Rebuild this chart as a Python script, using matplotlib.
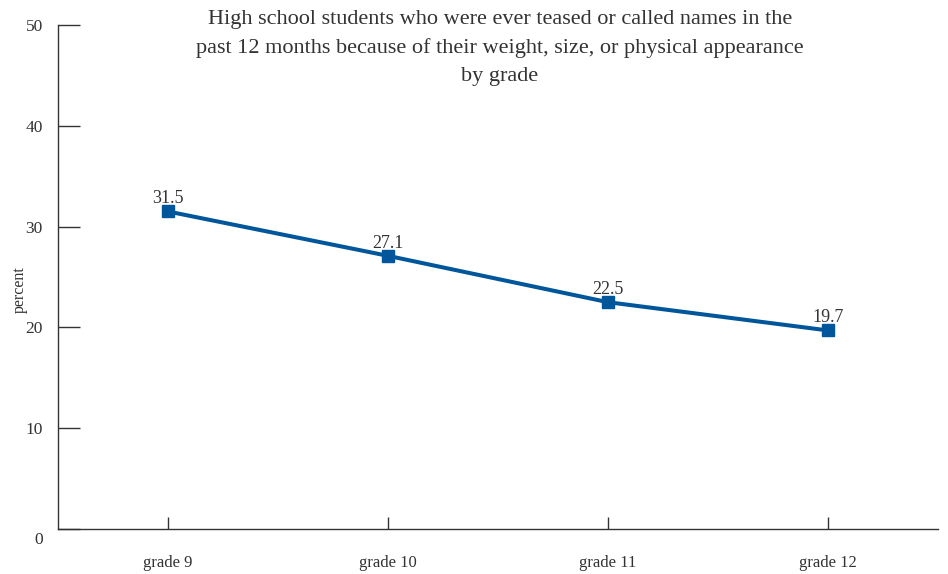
import numpy as np
import matplotlib

matplotlib.use("Agg")
import matplotlib.pyplot as plt
from matplotlib.transforms import ScaledTranslation

grades = ["grade 9", "grade 10", "grade 11", "grade 12"]
percent = [31.5, 27.1, 22.5, 19.7]
yticks = [0, 10, 20, 30, 40, 50]
title = ("High school students who were ever teased or called names in the\n"
         "past 12 months because of their weight, size, or physical appearance\n"
         "by grade")

plt.rcParams["font.family"] = ["Liberation Serif", "DejaVu Serif"]
TXT = "#333333"
BLUE = "#00569b"

fig = plt.figure(figsize=(9.48, 5.74), dpi=100)
ax = fig.add_axes([58 / 948, 1 - 529 / 574, 880 / 948, 504 / 574])

x = np.arange(len(grades))
ax.plot(x, percent, "-s", color=BLUE, lw=2.9, ms=8, mec=BLUE, mfc=BLUE)
for xi, v in zip(x, percent):
    ax.annotate(f"{v}", (xi, v), xytext=(0, 3), textcoords="offset points",
                ha="center", va="bottom", fontsize=13, color=TXT)

ax.set_xlim(-0.5, 3.5)
ax.set_ylim(0, 50)
ax.set_xticks(x)
ax.set_xticklabels(grades)
ax.set_yticks(yticks)
ax.tick_params(axis="y", direction="in", length=16, width=1, color=TXT,
               labelsize=12.5, labelcolor=TXT, pad=11)
ax.tick_params(axis="x", direction="in", length=9, width=1, color=TXT,
               labelsize=12, labelcolor=TXT, pad=19)
# the zero label sits a little below the axis line
lab0 = ax.get_yticklabels()[0]
lab0.set_transform(lab0.get_transform() + ScaledTranslation(0, -0.09, fig.dpi_scale_trans))

for s in ["top", "right"]:
    ax.spines[s].set_visible(False)
for s in ["left", "bottom"]:
    ax.spines[s].set_color(TXT)
    ax.spines[s].set_linewidth(1)

ax.set_ylabel("percent", fontsize=11.5, color=TXT)
ax.yaxis.set_label_coords(-30 / 880, 0.475)
fig.text(500 / 948, 1 - 48 / 574, title, ha="center", va="center",
         fontsize=16, color=TXT, linespacing=1.6)

fig.savefig("out.png", dpi=100)
